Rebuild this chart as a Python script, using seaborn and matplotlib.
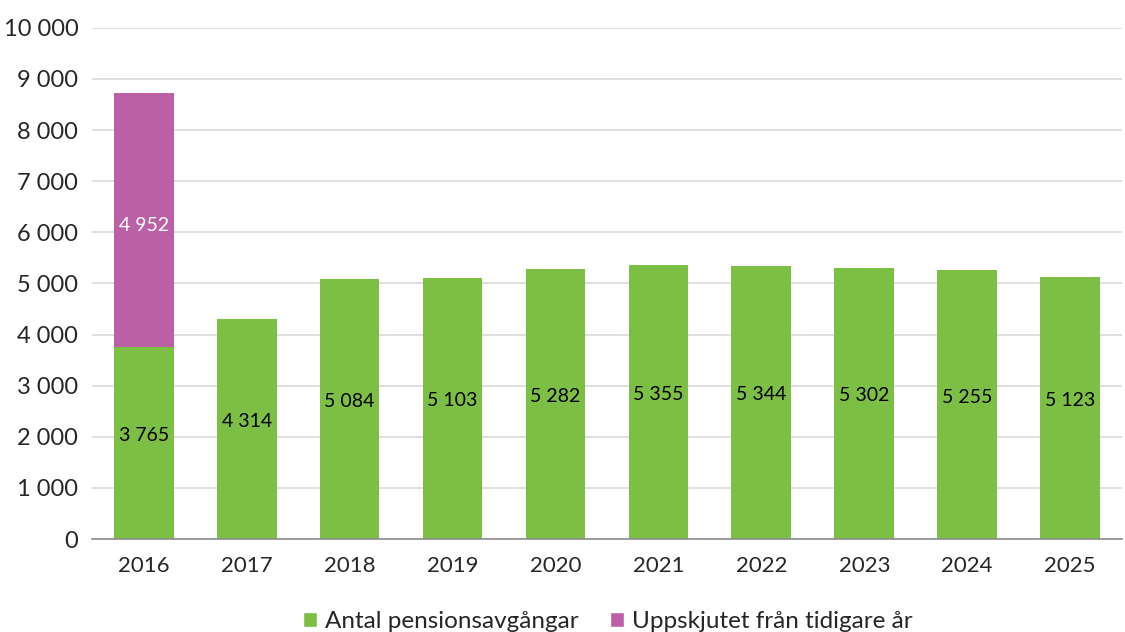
import matplotlib
matplotlib.use("Agg")
import matplotlib.pyplot as plt
from matplotlib.patches import Patch
import seaborn as sns
import pandas as pd

# ========= Data =========
years = ["2016", "2017", "2018", "2019", "2020", "2021", "2022", "2023", "2024", "2025"]
retirements = [3765, 4314, 5084, 5103, 5282, 5355, 5344, 5302, 5255, 5123]
postponed = [4952, 0, 0, 0, 0, 0, 0, 0, 0, 0]
series_names = ["Antal pensionsavgångar", "Uppskjutet från tidigare år"]

green = "#7dbe44"
pink = "#bc60a6"

def fmt(v):
    return "{:,}".format(int(v)).replace(",", " ")

sns.set_style("white")
plt.rcParams["font.family"] = ["Lato", "DejaVu Sans"]

df = pd.DataFrame({"year": years, "green": retirements, "pink": postponed})

fig = plt.figure(figsize=(11.25, 6.32), dpi=100)
ax = fig.add_axes([0.082, 0.147, 0.915, 0.809])

sns.barplot(data=df, x="year", y="green", order=years, color=green,
            width=0.58, saturation=1, linewidth=0, ax=ax, zorder=2)
sns.barplot(data=df, x="year", y="pink", order=years, color=pink,
            width=0.58, saturation=1, linewidth=0, bottom=df["green"], ax=ax, zorder=2)

# value labels
for i, (g, p) in enumerate(zip(retirements, postponed)):
    ax.text(i, g / 2 + 150, fmt(g), ha="center", va="center", fontsize=14, color="black")
    if p > 0:
        ax.text(i, g + p / 2 - 100, fmt(p), ha="center", va="center", fontsize=14, color="white")

ax.set_ylim(0, 10000)
ax.set_xlim(-0.5, len(years) - 0.5)
ax.set_yticks(range(0, 10001, 1000))
ax.set_yticklabels([fmt(v) for v in range(0, 10001, 1000)], fontsize=17)
ax.yaxis.grid(True, color="#d9d9d9", linewidth=1.2, zorder=0)
ax.set_axisbelow(True)
ax.set_xlabel("")
ax.set_ylabel("")

for s in ["top", "right", "left"]:
    ax.spines[s].set_visible(False)
ax.spines["bottom"].set_color("#8c8c8c")
ax.spines["bottom"].set_linewidth(1.2)

# category ticks at boundaries
ax.set_xticks([i - 0.5 for i in range(len(years) + 1)], minor=True)
ax.tick_params(axis="x", which="minor", length=6, color="#8c8c8c", width=1.2)
ax.tick_params(axis="x", which="major", length=0, labelsize=16, pad=12)
ax.tick_params(axis="y", length=0, pad=10)
ax.set_xticks(range(len(years)))
ax.set_xticklabels(years)

handles = [Patch(facecolor=green), Patch(facecolor=pink)]
fig.legend(handles, series_names, loc="lower center", bbox_to_anchor=(0.54, -0.035),
           ncol=2, frameon=False, fontsize=17.5, handlelength=0.6, handleheight=0.6,
           handletextpad=0.3, columnspacing=1.3)

fig.savefig("out.png", dpi=100)
